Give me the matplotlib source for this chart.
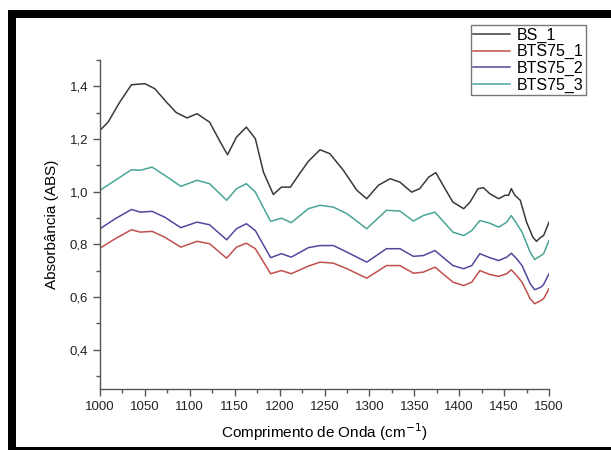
"""FTIR absorbance spectra, BS vs BTS75 samples (1000-1500 cm-1)."""
import matplotlib
matplotlib.use("Agg")
import matplotlib.pyplot as plt
from matplotlib.patches import Rectangle
from matplotlib.ticker import MultipleLocator

plt.rcParams["font.family"] = ["Liberation Sans", "DejaVu Sans"]

# values
bs1_x = [1000, 1009, 1022, 1035, 1050, 1061, 1074, 1085, 1097, 1108,
         1122, 1134, 1142, 1152, 1163, 1173, 1182, 1193, 1202, 1212,
         1221, 1232, 1245, 1256, 1271, 1286, 1297, 1310, 1323, 1334,
         1347, 1356, 1366, 1374, 1382, 1393, 1405, 1412, 1421, 1427,
         1434, 1444, 1451, 1455, 1458, 1462, 1468, 1475, 1482, 1486,
         1491, 1494, 1500]
bs1_y = [1.233, 1.264, 1.340, 1.406, 1.410, 1.391, 1.340, 1.300, 1.280, 1.296,
         1.264, 1.188, 1.140, 1.207, 1.245, 1.201, 1.074, 0.989, 1.017, 1.017,
         1.062, 1.115, 1.159, 1.144, 1.081, 1.005, 0.973, 1.024, 1.049, 1.036,
         0.998, 1.011, 1.055, 1.072, 1.024, 0.960, 0.935, 0.960, 1.011, 1.015,
         0.992, 0.973, 0.986, 0.986, 1.011, 0.986, 0.967, 0.884, 0.827, 0.811,
         0.827, 0.833, 0.884]

bts_x = [1000, 1017, 1035, 1045, 1058, 1072, 1090, 1108, 1122, 1141,
         1152, 1163, 1173, 1190, 1202, 1213, 1232, 1245, 1260, 1275,
         1297, 1319, 1334, 1349, 1360, 1373, 1393, 1405, 1414, 1423,
         1434, 1444, 1453, 1458, 1464, 1470, 1479, 1484, 1491, 1494, 1500]
bts1_y = [0.785, 0.821, 0.855, 0.846, 0.849, 0.827, 0.789, 0.811, 0.802, 0.747,
          0.789, 0.804, 0.783, 0.688, 0.700, 0.688, 0.717, 0.732, 0.728, 0.707,
          0.671, 0.719, 0.719, 0.690, 0.694, 0.713, 0.656, 0.643, 0.656, 0.700,
          0.685, 0.678, 0.688, 0.703, 0.681, 0.656, 0.593, 0.574, 0.586, 0.593, 0.631]
bts2_y = [0.859, 0.897, 0.932, 0.922, 0.925, 0.903, 0.863, 0.884, 0.874, 0.817,
          0.859, 0.878, 0.852, 0.749, 0.764, 0.751, 0.787, 0.795, 0.795, 0.770,
          0.732, 0.783, 0.783, 0.754, 0.757, 0.776, 0.719, 0.707, 0.719, 0.764,
          0.749, 0.738, 0.751, 0.766, 0.745, 0.719, 0.650, 0.627, 0.637, 0.647, 0.688]
bts3_y = [1.005, 1.043, 1.083, 1.081, 1.093, 1.062, 1.020, 1.043, 1.030, 0.967,
          1.011, 1.030, 0.998, 0.887, 0.899, 0.882, 0.935, 0.948, 0.941, 0.916,
          0.859, 0.929, 0.926, 0.888, 0.909, 0.922, 0.846, 0.833, 0.852, 0.890,
          0.880, 0.865, 0.884, 0.909, 0.878, 0.846, 0.770, 0.742, 0.757, 0.764, 0.814]

y_ticks = [0.4, 0.6, 0.8, 1.0, 1.2, 1.4]
y_labels = ["0,4", "0,6", "0,8", "1,0", "1,2", "1,4"]
x_ticks = list(range(1000, 1501, 50))

W, H = 611, 450
fig = plt.figure(figsize=(W / 100, H / 100), dpi=100)
ax = fig.add_axes([100 / W, 1 - 389 / H, 449 / W, 329 / H])

series = [
    (bs1_x, bs1_y, "#3a3a3a", "BS_1"),
    (bts_x, bts1_y, "#c0504d", "BTS75_1"),
    (bts_x, bts2_y, "#4f4a9e", "BTS75_2"),
    (bts_x, bts3_y, "#4aa597", "BTS75_3"),
]
for xs, ys, c, lab in series:
    ax.plot(xs, ys, color=c, lw=1.1, label=lab)

ax.set_xlim(1000, 1500)
ax.set_ylim(0.25, 1.5)
ax.set_xticks(x_ticks)
ax.set_yticks(y_ticks)
ax.set_yticklabels(y_labels)
ax.xaxis.set_minor_locator(MultipleLocator(25))
ax.yaxis.set_minor_locator(MultipleLocator(0.1))
for s in ["top", "right"]:
    ax.spines[s].set_visible(False)
for s in ["left", "bottom"]:
    ax.spines[s].set_color("#555555")
    ax.spines[s].set_linewidth(1.0)
ax.tick_params(which="major", length=5, width=1, color="#555555",
               labelsize=9.5, labelcolor="#222222")
ax.tick_params(which="minor", length=3, width=1, color="#555555")

ax.set_xlabel("Comprimento de Onda (cm$^{-1}$)", fontsize=11, labelpad=6)
ax.set_ylabel("Absorbância (ABS)", fontsize=11, labelpad=8)

leg = fig.legend(loc="upper left", bbox_to_anchor=(471 / W, 1 - 25 / H),
                 fontsize=11.5, frameon=True, fancybox=False, borderpad=0.15,
                 labelspacing=0.1, handlelength=2.3, handletextpad=0.4,
                 borderaxespad=0)
leg.get_frame().set_edgecolor("#555555")
leg.get_frame().set_linewidth(1.0)

# black screenshot frame around the picture
fig.add_artist(Rectangle((8 / W, 0), 8 / W, 1 - 10 / H, transform=fig.transFigure,
                         color="black", lw=0))
fig.add_artist(Rectangle((8 / W, 1 - 18 / H), 1, 8 / H, transform=fig.transFigure,
                         color="black", lw=0))
fig.add_artist(Rectangle((8 / W, 0), 1, 3 / H, transform=fig.transFigure,
                         color="black", lw=0))

fig.savefig("out.png", dpi=100)
